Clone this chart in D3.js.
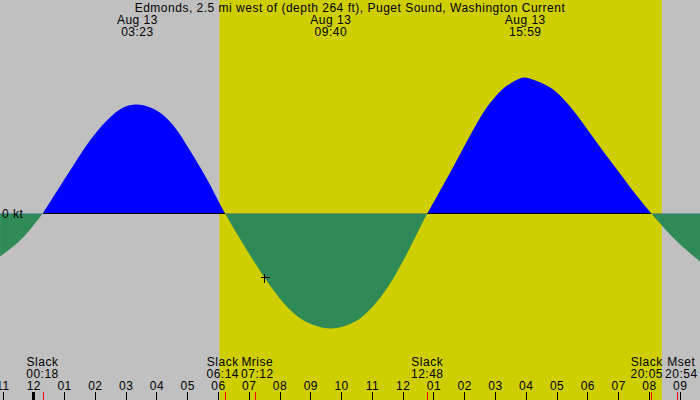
<!DOCTYPE html>
<html>
<head>
<meta charset="utf-8">
<script src="https://cdn.jsdelivr.net/npm/d3@7"></script>
<style>
  body { margin: 0; background: #c0c0c0; }
  svg { display: block; }
  text { font-family: "Liberation Sans", Arial, sans-serif; font-size: 12px; letter-spacing: 0.5px; fill: #000; }
</style>
</head>
<body>
<div id="chart"></div>
<script>
// station and date shown on the chart
let title = "Edmonds, 2.5 mi west of (depth 264 ft), Puget Sound, Washington Current";
let dayLabel = "Aug 13";

// current speed (kt), hours from midnight Aug 13
let curveHours = [-1.08, -0.43, 0, 0.3, 0.76, 1.3, 1.84, 2.39, 2.92, 3.38, 4.01, 4.55, 5.09, 5.63, 6.23,
  6.67, 7.21, 7.49, 7.76, 8.3, 8.84, 9.67, 10.46, 11.0, 11.55, 12.09, 12.63, 12.8,
  13.11, 13.65, 14.19, 14.73, 15.27, 15.55, 15.81, 15.98, 16.4, 16.89, 17.44, 17.98, 18.52, 19.06, 19.6, 20.08, 20.88, 21.66];
let curveKnots = [-0.43, -0.27, -0.12, 0, 0.22, 0.48, 0.73, 0.93, 1.06, 1.09, 1.03, 0.88, 0.63, 0.35, 0,
  -0.23, -0.50, -0.63, -0.75, -0.95, -1.08, -1.15, -1.08, -0.94, -0.72, -0.43, -0.10, 0,
  0.17, 0.47, 0.78, 1.06, 1.25, 1.31, 1.35, 1.36, 1.32, 1.24, 1.07, 0.85, 0.62, 0.40, 0.18, 0, -0.27, -0.48];

// max flood / ebb events (labels at the top)
let maxTimes = ["03:23", "09:40", "15:59"];

// events at the bottom
let eventNames = ["Slack", "Slack", "Mrise", "Slack", "Slack", "Mset"];
let eventTimes = ["00:18", "06:14", "07:12", "12:48", "20:05", "20:54"];

// daylight
let sunrise = "06:03", sunset = "20:25";

// hour ticks
let tickHours = [-1, 0, 1, 2, 3, 4, 5, 6, 7, 8, 9, 10, 11, 12, 13, 14, 15, 16, 17, 18, 19, 20, 21];
let tickLabels = ["11", "12", "01", "02", "03", "04", "05", "06", "07", "08", "09", "10",
  "11", "12", "01", "02", "03", "04", "05", "06", "07", "08", "09"];

// the "now" cross
let nowHour = 7.49, nowKt = -0.63;

let width = 700, height = 400;
let viewStart = -1.082, viewEnd = 21.66;

function toHours(s) {
  let p = s.split(":");
  return +p[0] + (+p[1]) / 60;
}

let svg = d3.select("#chart").append("svg")
  .attr("width", width)
  .attr("height", height);

let x = d3.scaleLinear().domain([viewStart, viewEnd]).range([0, width]);
let y = d3.scaleLinear().domain([-1.5, 1.5]).range([363.5, 63.5]);

// background + daylight
svg.append("rect").attr("width", width).attr("height", height).attr("fill", "#c0c0c0");
svg.append("rect")
  .attr("x", x(toHours(sunrise)))
  .attr("width", x(toHours(sunset)) - x(toHours(sunrise)))
  .attr("y", 0).attr("height", height)
  .attr("fill", "#cfcf00");

let pts = curveHours.map((h, i) => [h, curveKnots[i]]);
let y0 = y(0);

let defs = svg.append("defs");
defs.append("clipPath").attr("id", "above")
  .append("rect").attr("x", 0).attr("y", 0).attr("width", width).attr("height", y0);
defs.append("clipPath").attr("id", "below")
  .append("rect").attr("x", 0).attr("y", y0).attr("width", width).attr("height", height - y0);

let area = d3.area()
  .x(d => x(d[0]))
  .y0(y0)
  .y1(d => y(d[1]))
  .curve(d3.curveCatmullRom.alpha(0.5));

svg.append("path").datum(pts).attr("d", area)
  .attr("fill", "#0000ff").attr("clip-path", "url(#above)");
svg.append("path").datum(pts).attr("d", area)
  .attr("fill", "#2e8b57").attr("clip-path", "url(#below)");

// zero line under the flood humps only
let slackHours = eventTimes.filter((t, i) => eventNames[i] == "Slack").map(toHours);
let bounds = [viewStart].concat(slackHours, [viewEnd]);
for (let i = 0; i < bounds.length - 1; i++) {
  let a = bounds[i], b = bounds[i + 1];
  let inside = pts.filter(d => d[0] > a && d[0] < b);
  if (inside.length && d3.mean(inside, d => d[1]) > 0) {
    svg.append("line")
      .attr("x1", x(a)).attr("x2", x(b))
      .attr("y1", Math.floor(y0) + 0.5).attr("y2", Math.floor(y0) + 0.5)
      .attr("stroke", "#000").attr("stroke-width", 1)
      .attr("shape-rendering", "crispEdges");
  }
}

svg.append("text")
  .attr("x", 2).attr("y", y0 + 4)
  .text("0 kt");

// now cross
let cx = Math.round(x(nowHour)) + 0.5, cy = Math.round(y(nowKt)) + 0.5;
svg.append("line").attr("x1", cx - 4).attr("x2", cx + 5).attr("y1", cy).attr("y2", cy)
  .attr("stroke", "#000").attr("shape-rendering", "crispEdges");
svg.append("line").attr("x1", cx).attr("x2", cx).attr("y1", cy - 4).attr("y2", cy + 5)
  .attr("stroke", "#000").attr("shape-rendering", "crispEdges");

// title and max labels
svg.append("text")
  .attr("x", width / 2).attr("y", 12)
  .style("text-anchor", "middle")
  .text(title);

let tops = svg.append("g").selectAll("g").data(maxTimes).enter().append("g");
tops.append("text")
  .attr("x", d => x(toHours(d))).attr("y", 24)
  .style("text-anchor", "middle")
  .text(dayLabel);
tops.append("text")
  .attr("x", d => x(toHours(d))).attr("y", 36)
  .style("text-anchor", "middle")
  .text(d => d);

// hour axis along the bottom
let axis = d3.axisTop(x)
  .tickValues(tickHours)
  .tickFormat((d, i) => tickLabels[i])
  .tickSize(8)
  .tickPadding(2);

let axisG = svg.append("g")
  .attr("transform", "translate(0," + height + ")")
  .call(axis);
axisG.select(".domain").remove();
axisG.selectAll("text")
  .style("font-family", "'Liberation Sans', Arial, sans-serif")
  .style("font-size", "12px")
  .style("letter-spacing", "0.5px")
  .attr("fill", "#000");
axisG.selectAll("line").attr("stroke", "#000").attr("shape-rendering", "crispEdges");
axisG.selectAll(".tick").filter(d => d == 0).select("line").attr("stroke-width", 3);

// event ticks
svg.append("g").selectAll("line").data(eventTimes).enter().append("line")
  .attr("x1", d => Math.round(x(toHours(d))) + 0.5)
  .attr("x2", d => Math.round(x(toHours(d))) + 0.5)
  .attr("y1", height - 8).attr("y2", height)
  .attr("stroke", "#ff0000")
  .attr("shape-rendering", "crispEdges");

// event labels, nudged apart where they collide
let labels = eventTimes.map((t, i) => {
  let g = svg.append("g");
  let a = g.append("text").attr("y", 366).style("text-anchor", "middle").text(eventNames[i]);
  let b = g.append("text").attr("y", 378).style("text-anchor", "middle").text(t);
  let w = Math.max(a.node().getComputedTextLength(), b.node().getComputedTextLength());
  return {g: g, cx: x(toHours(t)), w: w};
});
for (let i = 0; i < labels.length - 1; i++) {
  let l = labels[i], r = labels[i + 1];
  let overlap = (l.cx + l.w / 2 + 2) - (r.cx - r.w / 2);
  if (overlap > 0) {
    l.cx -= overlap / 2;
    r.cx += overlap / 2;
  }
}
labels.forEach(l => l.g.selectAll("text").attr("x", l.cx));
</script>
</body>
</html>
